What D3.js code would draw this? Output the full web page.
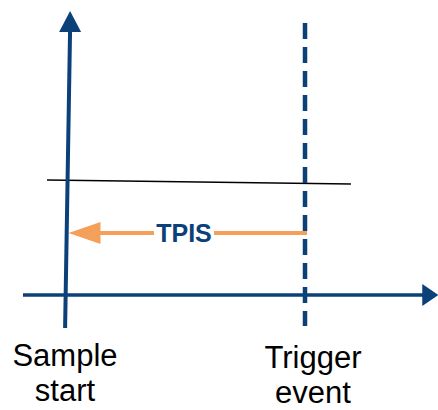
<!DOCTYPE html>
<html><head><meta charset="utf-8">
<script src="https://cdn.jsdelivr.net/npm/d3@7"></script>
<style>html,body{margin:0;padding:0;background:#fff;}svg{display:block;}</style>
</head><body>
<script>
// ---- data (time in units where sample start = 0, trigger event = 1; level in %) ----
const eventNames = ["Sample start", "Trigger event"];
const eventTimes = [0, 1];
const eventLabelLines = [["Sample", "start"], ["Trigger", "event"]];
const timeAxisRange = [-0.185, 1.56];      // x axis from .. to (arrow tip)
const levelAxisRange = [-11.6, 100];       // y axis from .. to (arrow tip)
const levelAxisSlant = [-0.008, 0.013];    // y axis time at bottom, top
const triggerLevelTimes = [-0.084, 1.193];
const triggerLevelValues = [40.5, 39.1];
const dashedRange = [-10.9, 95.8];
const tpisLevel = 21.8;
const tpisLabel = "TPIS";

const W = 438, H = 410;
const dark = "#0b4079", orange = "#f5a05a";
const x = d3.scaleLinear().domain([0, 1]).range([67, 305]);
const y = d3.scaleLinear().domain([0, 100]).range([295, 11]);

const svg = d3.select("body").append("svg").attr("width", W).attr("height", H);

// threshold (black) line
svg.append("line")
  .attr("x1", x(triggerLevelTimes[0])).attr("y1", y(triggerLevelValues[0]))
  .attr("x2", x(triggerLevelTimes[1])).attr("y2", y(triggerLevelValues[1]))
  .attr("stroke", "#000").attr("stroke-width", 1.6);

// dashed trigger line
svg.append("line")
  .attr("x1", x(eventTimes[1])).attr("x2", x(eventTimes[1]))
  .attr("y1", y(dashedRange[1])).attr("y2", y(dashedRange[0]))
  .attr("stroke", dark).attr("stroke-width", 4.5)
  .attr("stroke-dasharray", "16 8");

// x axis
const xTip = x(timeAxisRange[1]);
svg.append("line")
  .attr("x1", x(timeAxisRange[0])).attr("x2", xTip - 12)
  .attr("y1", y(0)).attr("y2", y(0))
  .attr("stroke", dark).attr("stroke-width", 3.5);
svg.append("path")
  .attr("d", `M${xTip},${y(0)} L${xTip - 16},${y(0) - 11} L${xTip - 16},${y(0) + 11} Z`)
  .attr("fill", dark);

// y axis (slightly slanted)
const yTipX = x(levelAxisSlant[1]), yTipY = y(levelAxisRange[1]);
svg.append("line")
  .attr("x1", x(levelAxisSlant[0])).attr("y1", y(levelAxisRange[0]))
  .attr("x2", yTipX).attr("y2", yTipY + 18)
  .attr("stroke", dark).attr("stroke-width", 4);
svg.append("path")
  .attr("d", `M${yTipX},${yTipY} L${yTipX - 11},${yTipY + 21} L${yTipX + 11},${yTipY + 21} Z`)
  .attr("fill", dark);

// TPIS arrow
const ay = y(tpisLevel);
const aTip = x(0) + 1.5;
svg.append("line")
  .attr("x1", aTip + 28).attr("x2", x(eventTimes[1]) + 2)
  .attr("y1", ay).attr("y2", ay)
  .attr("stroke", orange).attr("stroke-width", 4);
svg.append("path")
  .attr("d", `M${aTip},${ay} L${aTip + 32},${ay - 11} L${aTip + 32},${ay + 11} Z`)
  .attr("fill", orange);
const tpisX = 184;
svg.append("rect").attr("x", tpisX - 30).attr("y", ay - 14).attr("width", 60).attr("height", 28).attr("fill", "#fff");
svg.append("text")
  .attr("x", tpisX).attr("y", ay + 9)
  .attr("text-anchor", "middle")
  .attr("font-family", "Liberation Sans, Arial, sans-serif")
  .attr("font-weight", "bold").attr("font-size", 25)
  .attr("fill", dark).text(tpisLabel);

// event labels
const labelBase = [366, 368];
eventTimes.forEach((t, i) => {
  const tx = svg.append("text")
    .attr("text-anchor", "middle")
    .attr("font-family", "Liberation Sans, Arial, sans-serif")
    .attr("font-size", 31).attr("fill", "#000");
  eventLabelLines[i].forEach((ln, j) => {
    tx.append("tspan").attr("x", x(t) + (i === 0 ? -2 : 8)).attr("y", labelBase[i] + j * 35).text(ln);
  });
});
</script>
</body></html>
